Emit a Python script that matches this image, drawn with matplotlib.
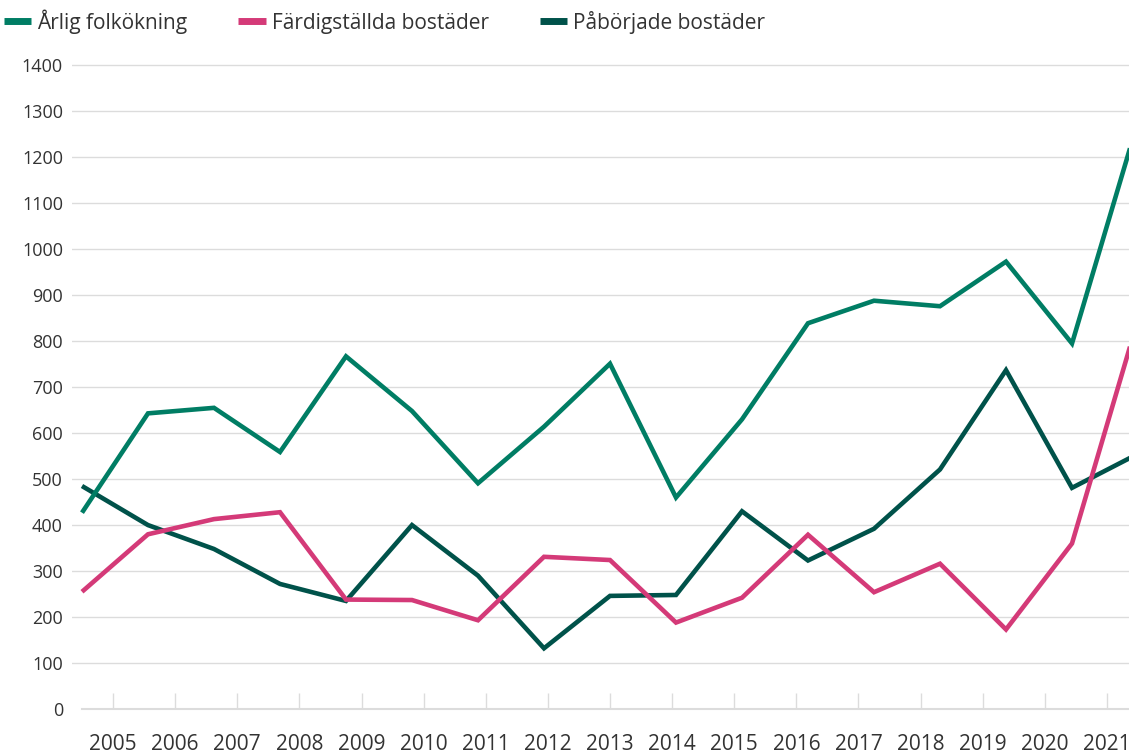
import numpy as np
import matplotlib
matplotlib.use("Agg")
import matplotlib.pyplot as plt

# data
years = [str(y) for y in range(2005, 2022)]
folkokning = [427, 643, 655, 559, 767, 648, 491, 614, 751, 460, 630, 839, 888, 876, 973, 795, 1278]
fardigstallda = [255, 380, 413, 428, 238, 237, 193, 331, 324, 188, 242, 379, 254, 316, 173, 360, 847]
paborjade = [485, 400, 348, 272, 235, 400, 290, 132, 246, 248, 430, 323, 392, 521, 737, 481, 555]
series_names = ["Årlig folkökning", "Färdigställda bostäder", "Påbörjade bostäder"]
colors = ["#007d64", "#d43a78", "#00524a"]
yticks = list(range(0, 1500, 100))

plt.rcParams["font.family"] = ["Open Sans", "DejaVu Sans"]
text_col = "#333333"
grid_col = "#dcdcdc"

W, H = 1129, 754
fig = plt.figure(figsize=(W / 100, H / 100), dpi=100)

# plot area in pixels: gridlines start at x=72, first point at 82, last at ~1138 (cut off)
px_unit = 66.0
n = len(years)
left_px, right_px = 72, 82 + (n - 1) * px_unit
y0_px, y1400_px = 709, 65.3
px_per_val = (y0_px - y1400_px) / 1400
ytop = 1420
ax = fig.add_axes([left_px / W, (H - y0_px) / H,
                   (right_px - left_px) / W, ytop * px_per_val / H])
ax.set_xlim(-(82 - left_px) / px_unit, n - 1)
ax.set_ylim(0, ytop)

x = np.arange(n)
zs = [3, 4, 2]
for vals, name, c, z in zip([folkokning, fardigstallda, paborjade], series_names, colors, zs):
    ax.plot(x, vals, color=c, lw=3.3, label=name, zorder=z,
            solid_joinstyle="miter", solid_capstyle="butt")

# y axis
ax.set_yticks(yticks)
ax.set_yticklabels([str(v) for v in yticks])
ax.tick_params(axis="y", length=0, pad=6.5, labelsize=13, labelcolor=text_col)
ax.grid(axis="y", color=grid_col, lw=1)
ax.yaxis.get_gridlines()[0].set_visible(False)

# x axis: year labels centred in 17 bands over the point range
ax.set_xticks((np.arange(n) + 0.5) * (n - 1) / n)
ax.set_xticklabels(years)
ax.tick_params(axis="x", direction="in", length=11.5, width=1, color=grid_col,
               pad=18, labelsize=15, labelcolor=text_col)

for s in ["top", "right", "left"]:
    ax.spines[s].set_visible(False)
ax.spines["bottom"].set_color(grid_col)
ax.spines["bottom"].set_linewidth(1.5)
ax.spines["bottom"].set_bounds(0, n - 1)

leg_handles = [plt.Line2D([], [], color=c, lw=5, solid_capstyle="butt") for c in colors]
fig.legend(leg_handles, series_names, loc="upper left", bbox_to_anchor=(4 / W, 1 - 9 / H),
           ncol=3, frameon=False, fontsize=15, handlelength=1.3, handletextpad=0.3,
           columnspacing=2.45, borderpad=0, borderaxespad=0, labelcolor=text_col)

fig.savefig("out.png", dpi=100)
